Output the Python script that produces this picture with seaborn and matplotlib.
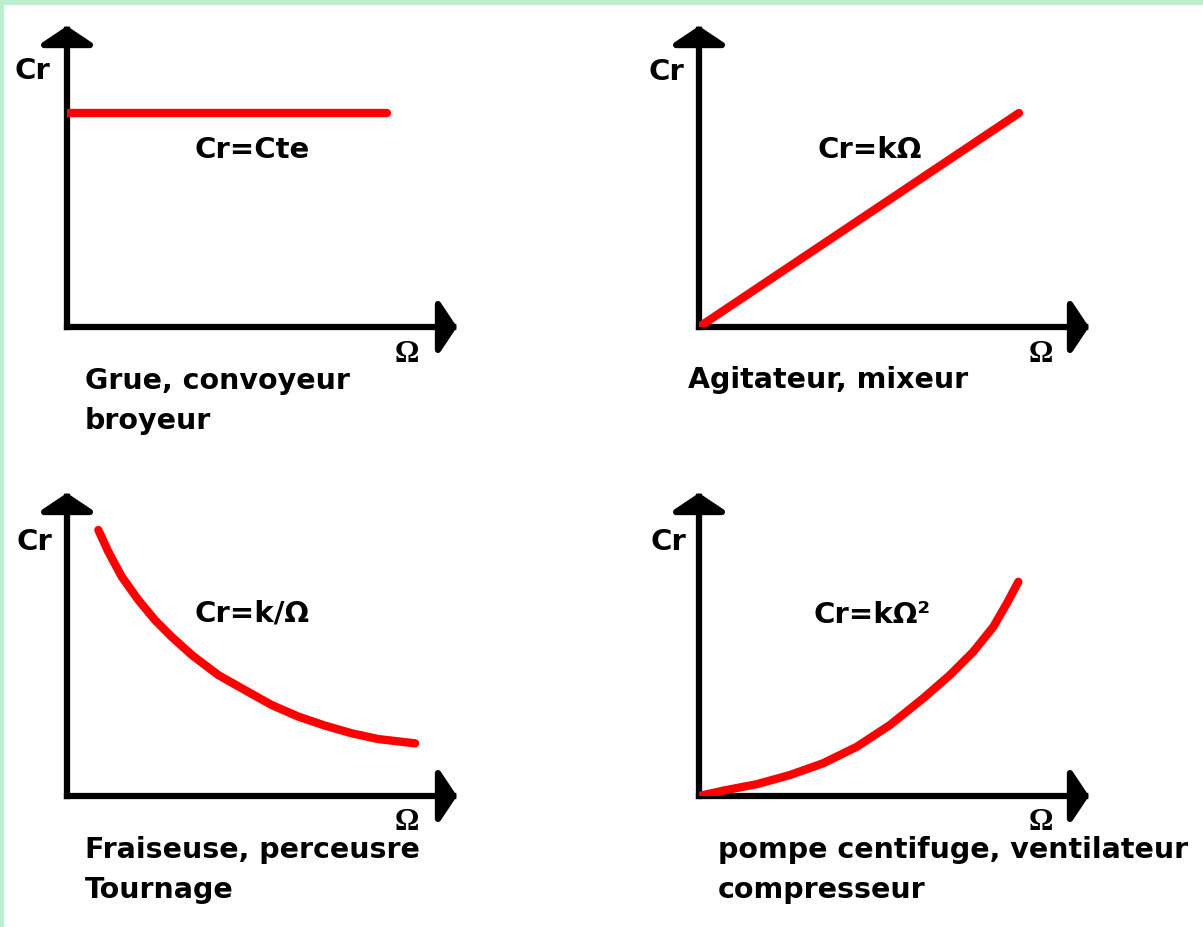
import seaborn as sns
import matplotlib
matplotlib.use("Agg")
import matplotlib.pyplot as plt
from matplotlib import patches

# Données (Ω normalisé, Cr normalisé)
omega_cte = [0.0, 1.0]
cr_cte = [1.0, 1.0]

omega_lin = [0.0, 1.0]
cr_lin = [0.0, 1.0]

omega_inv = [0.098, 0.129, 0.171, 0.223, 0.275, 0.327, 0.390, 0.473, 0.556, 0.640,
             0.723, 0.806, 0.890, 0.973, 1.088]
cr_inv = [1.243, 1.142, 1.025, 0.916, 0.822, 0.744, 0.659, 0.565, 0.495, 0.425,
          0.371, 0.329, 0.293, 0.266, 0.246]

omega_sq = [0.0, 0.076, 0.180, 0.284, 0.388, 0.493, 0.597, 0.701, 0.784, 0.857,
            0.920, 0.962, 0.998]
cr_sq = [0.0, 0.025, 0.055, 0.098, 0.153, 0.230, 0.332, 0.457, 0.565, 0.674,
         0.791, 0.900, 1.001]

formules = ["Cr=Cte", "Cr=kΩ", "Cr=k/Ω", "Cr=kΩ²"]
legendes = [["Grue, convoyeur", "broyeur"],
            ["Agitateur, mixeur"],
            ["Fraiseuse, perceusre", "Tournage"],
            ["pompe centifuge, ventilateur", "compresseur"]]

W, H = 1203, 927
sns.set_style("white")
plt.rcParams['font.family'] = ['DejaVu Sans']

fig = plt.figure(figsize=(W / 100, H / 100), dpi=100)
fig.patch.set_facecolor("#bdeecd")
fig.add_artist(patches.Rectangle((4 / W, 0), 1, 1 - 5 / H, transform=fig.transFigure,
                                 facecolor="white", edgecolor="none", zorder=0))


def fx(x):
    return x / W


def fy(y):
    return 1 - y / H


# origine (px), extrémité des flèches (px)
panneaux = [(67, 327, 457, 26), (699, 327, 1089, 26),
            (67, 796, 457, 493), (699, 796, 1089, 493)]
donnees = [(omega_cte, cr_cte), (omega_lin, cr_lin), (omega_inv, cr_inv), (omega_sq, cr_sq)]

for i, ((ox, oy, tx, ty), (xs, ys)) in enumerate(zip(panneaux, donnees)):
    ax = fig.add_axes([fx(ox), fy(oy), (tx - ox) / W, (oy - ty) / H])
    ax.set_facecolor("none")
    sns.lineplot(x=xs, y=ys, ax=ax, color="#ff0000", linewidth=6, estimator=None,
                 solid_capstyle="round", solid_joinstyle="round", zorder=3)
    ax.set_xlim(0, (tx - ox) / 320)
    ax.set_ylim(0, (oy - ty) / 214)
    ax.set_xticks([])
    ax.set_yticks([])
    for s in ax.spines.values():
        s.set_visible(False)
    # axes avec flèches
    for xy in [(1, 0), (0, 1)]:
        ax.annotate("", xy=xy, xytext=(0, 0), xycoords="axes fraction",
                    arrowprops=dict(arrowstyle="-|>,head_length=0.5,head_width=0.75",
                                    mutation_scale=22, lw=4.5, color="black",
                                    shrinkA=0, shrinkB=0, capstyle="projecting",
                                    joinstyle="round"),
                    annotation_clip=False, zorder=2)

# textes
cr_pos = [(15, 71), (648, 72), (17, 542), (650, 542)]
form_pos = [(252, 150), (870, 150), (252, 613), (872, 615)]
om_pos = [(407, 355), (1041, 355), (407, 823), (1041, 823)]
leg_pos = [(85, 381), (688, 380), (85, 850), (718, 850)]

for i in range(4):
    fig.text(fx(cr_pos[i][0]), fy(cr_pos[i][1]), "Cr", fontsize=21, fontweight="bold",
             color="black", ha="left", va="center")
    fig.text(fx(form_pos[i][0]), fy(form_pos[i][1]), formules[i], fontsize=21,
             fontweight="bold", color="black", ha="center", va="center")
    fig.text(fx(om_pos[i][0]), fy(om_pos[i][1]), "Ω", fontsize=22, fontweight="bold",
             family="Liberation Serif", color="black", ha="center", va="center")
    for j, ligne in enumerate(legendes[i]):
        fig.text(fx(leg_pos[i][0]), fy(leg_pos[i][1] + 40 * j), ligne, fontsize=20.5,
                 fontweight="bold", color="black", ha="left", va="center")

fig.savefig("out.png", dpi=100)
